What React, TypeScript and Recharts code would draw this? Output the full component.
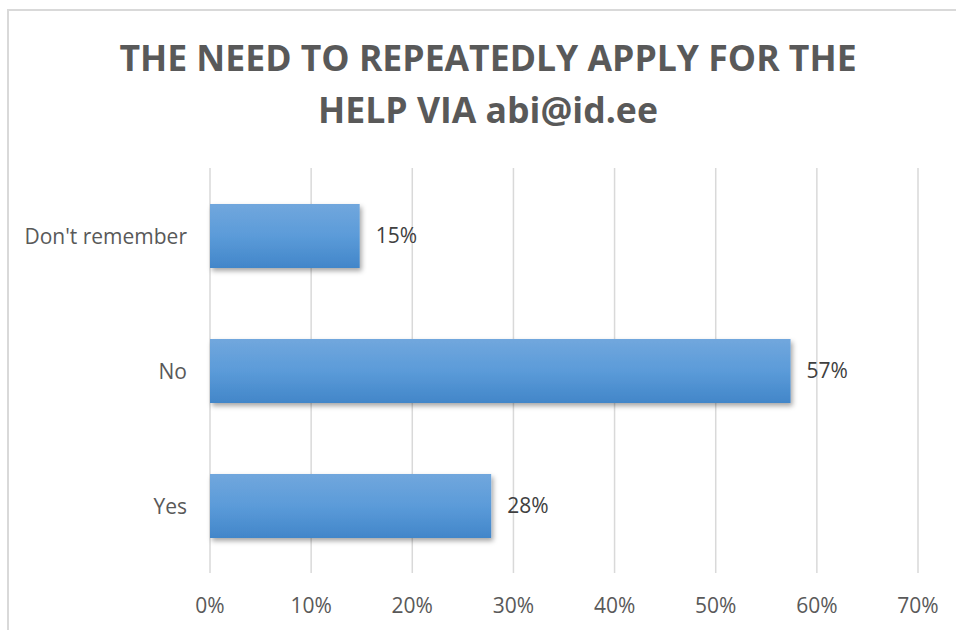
import React from "react";
import { BarChart, Bar, XAxis, YAxis, CartesianGrid, LabelList } from "recharts";

const titleLines = ["THE NEED TO REPEATEDLY APPLY FOR THE", "HELP VIA abi@id.ee"];
const categories = ["Don't remember", "No", "Yes"];
const shares = [0.148, 0.574, 0.278];
const xTicks = [0, 0.1, 0.2, 0.3, 0.4, 0.5, 0.6, 0.7];

const data = categories.map((name, i) => ({ name, value: shares[i] }));

const FONT = "'Open Sans', sans-serif";

const pct = (v: number) => `${Math.round(v * 100)}%`;

const XTick = (props: any) => {
  const { x, y, payload } = props;
  return (
    <text x={x} y={y + 32} textAnchor="middle" dominantBaseline="central" fill="#595959" fontSize={21} fontFamily={FONT}>
      {pct(payload.value)}
    </text>
  );
};

const YTick = (props: any) => {
  const { x, y, payload } = props;
  return (
    <text x={x - 23} y={y} textAnchor="end" dominantBaseline="central" fill="#595959" fontSize={21} fontFamily={FONT}>
      {payload.value}
    </text>
  );
};

export default function App() {
  return (
    <div
      style={{
        position: "fixed",
        left: 0,
        top: 0,
        width: 956,
        height: 630,
        background: "#fff",
        overflow: "hidden",
      }}
    >
      <div
        style={{
          position: "absolute",
          left: 7,
          top: 9,
          width: 960,
          height: 630,
          borderTop: "2px solid #d9d9d9",
          borderLeft: "2px solid #d9d9d9",
          boxSizing: "border-box",
        }}
      />
      <div
        style={{
          position: "absolute",
          left: 0,
          top: 31,
          width: 976,
          textAlign: "center",
          fontFamily: FONT,
          fontWeight: 700,
          fontSize: 35.6,
          lineHeight: "52px",
          color: "#595959",
        }}
      >
        {titleLines.map((t) => (
          <div key={t}>{t}</div>
        ))}
      </div>
      <div style={{ position: "absolute", left: 0, top: 0 }}>
        <BarChart
          width={956}
          height={630}
          data={data}
          layout="vertical"
          margin={{ top: 168, right: 38, bottom: 0, left: 0 }}
          barSize={64}
        >
          <defs>
            <linearGradient id="barGrad" x1="0" y1="0" x2="0" y2="1">
              <stop offset="0%" stopColor="#71a7dd" />
              <stop offset="50%" stopColor="#5b9bd9" />
              <stop offset="100%" stopColor="#4286c9" />
            </linearGradient>
            <filter id="barShadow" x="-10%" y="-20%" width="130%" height="160%">
              <feDropShadow dx="2" dy="3" stdDeviation="2.5" floodColor="#000" floodOpacity="0.35" />
            </filter>
          </defs>
          <CartesianGrid horizontal={false} stroke="#d9d9d9" strokeWidth={1.5} />
          <XAxis
            type="number"
            domain={[0, 0.7]}
            ticks={xTicks}
            height={57}
            axisLine={false}
            tickLine={false}
            tickSize={0}
            tickMargin={0}
            tick={<XTick />}
            interval={0}
          />
          <YAxis
            type="category"
            dataKey="name"
            width={210}
            axisLine={false}
            tickLine={false}
            tickSize={0}
            tickMargin={0}
            tick={<YTick />}
            interval={0}
          />
          <Bar dataKey="value" fill="url(#barGrad)" filter="url(#barShadow)" isAnimationActive={false}>
            <LabelList
              dataKey="value"
              position="right"
              offset={16}
              formatter={(v: any) => pct(Number(v))}
              fill="#404040"
              fontSize={21}
              fontFamily={FONT}
            />
          </Bar>
        </BarChart>
      </div>
    </div>
  );
}
